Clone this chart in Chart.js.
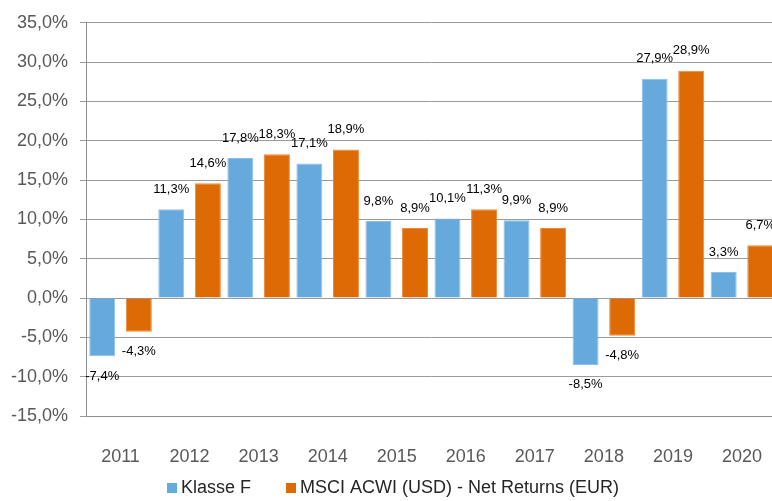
<!DOCTYPE html>
<html>
<head>
<meta charset="utf-8">
<script src="https://cdn.jsdelivr.net/npm/chart.js@4"></script>
<style>
  html, body { margin: 0; padding: 0; background: #fff; overflow: hidden; }
  #wrap { width: 772px; height: 501px; overflow: hidden; }
</style>
</head>
<body>
<div id="wrap"><canvas id="returns-chart" width="784" height="501"></canvas></div>
<script>
// yearly returns
let years = ['2011', '2012', '2013', '2014', '2015', '2016', '2017', '2018', '2019', '2020'];
let klasseF = [-7.4, 11.3, 17.8, 17.1, 9.8, 10.1, 9.9, -8.5, 27.9, 3.3];
let msciAcwi = [-4.3, 14.6, 18.3, 18.9, 8.9, 11.3, 8.9, -4.8, 28.9, 6.7];
let seriesNames = ['Klasse F', 'MSCI ACWI (USD) - Net Returns (EUR)'];
let seriesColors = ['#66aadd', '#de6a05'];
let seriesEdges = ['#8dc0e7', '#eb8a3c'];

let fontName = '"Liberation Sans", Arial, sans-serif';

function pct(v) {
    return v.toFixed(1).replace('.', ',') + '%';
}

// value labels above / below each bar
let barLabels = {
    id: 'barLabels',
    afterDatasetsDraw(chart) {
        let ctx = chart.ctx;
        ctx.save();
        ctx.font = '13px ' + fontName;
        ctx.fillStyle = '#000';
        ctx.textAlign = 'center';
        ctx.textBaseline = 'middle';
        chart.data.datasets.forEach((ds, i) => {
            chart.getDatasetMeta(i).data.forEach((bar, j) => {
                let v = ds.data[j];
                let y = v >= 0 ? bar.y - 20 : bar.y + 20;
                ctx.fillText(pct(v), bar.x, y);
            });
        });
        ctx.restore();
    }
};

// legend at the bottom, drawn by hand so spacing is like the original
let bottomLegend = {
    id: 'bottomLegend',
    afterDraw(chart) {
        let ctx = chart.ctx;
        ctx.save();
        ctx.font = '18px ' + fontName;
        ctx.textBaseline = 'middle';
        let x = 167;
        let y = 488;
        chart.data.datasets.forEach((ds) => {
            ctx.fillStyle = ds.backgroundColor;
            ctx.fillRect(x, y - 5, 10, 10);
            ctx.fillStyle = '#262626';
            ctx.fillText(ds.label, x + 14, y);
            x += 14 + ctx.measureText(ds.label).width + 35;
        });
        ctx.restore();
    }
};

let ctx = document.getElementById('returns-chart').getContext('2d');
let returnsChart = new Chart(ctx, {
    type: 'bar',
    data: {
        labels: years,
        datasets: [{
            label: seriesNames[0],
            data: klasseF,
            backgroundColor: seriesColors[0],
            borderColor: seriesEdges[0],
            borderWidth: 1
        }, {
            label: seriesNames[1],
            data: msciAcwi,
            backgroundColor: seriesColors[1],
            borderColor: seriesEdges[1],
            borderWidth: 1
        }]
    },
    plugins: [barLabels, bottomLegend],
    options: {
        responsive: false,
        animation: false,
        categoryPercentage: 1.06,
        barPercentage: 0.71,
        layout: { padding: { top: 7, right: 0, left: 0, bottom: 0 } },
        plugins: {
            tooltip: { enabled: false },
            legend: { display: false }
        },
        scales: {
            x: {
                afterFit: function (scale) { scale.height = 85; },
                grid: { display: false },
                border: { display: true, color: '#8f8f8f', width: 1 },
                ticks: {
                    color: '#595959',
                    padding: 22,
                    font: { family: fontName, size: 18 }
                }
            },
            y: {
                min: -15,
                max: 35,
                afterFit: function (scale) { scale.width = 86; },
                grid: { color: '#9a9a9a', lineWidth: 1, tickLength: 6 },
                border: { color: '#8f8f8f', width: 1 },
                ticks: {
                    stepSize: 5,
                    color: '#595959',
                    padding: 12,
                    font: { family: fontName, size: 18 },
                    callback: function (v) { return pct(v); }
                }
            }
        }
    }
});
</script>
</body>
</html>
